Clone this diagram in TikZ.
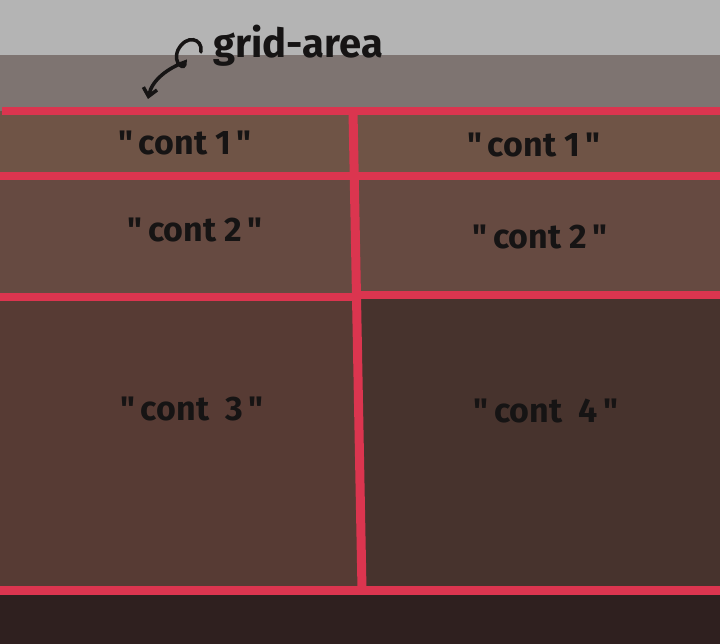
\documentclass[tikz,border=0pt]{standalone}
\usepackage{fontspec}
\setmainfont{Fira Sans}[Ligatures=TeXOff]
\usetikzlibrary{arrows.meta}
\definecolor{topgray}{HTML}{B4B4B4}
\definecolor{band}{HTML}{7E7471}
\definecolor{redline}{HTML}{DB354F}
\definecolor{rowone}{HTML}{6F5446}
\definecolor{rowtwo}{HTML}{664A41}
\definecolor{cellthree}{HTML}{573B34}
\definecolor{cellfour}{HTML}{47332D}
\definecolor{bottom}{HTML}{2F201F}
\definecolor{ink}{HTML}{161414}
\tikzset{
  lbl/.style={text=ink, font=\fontsize{34}{36}\selectfont\bfseries},
  gridline/.style={draw=redline, line width=8pt},
}
\begin{document}
\begin{tikzpicture}[x=1pt,y=-1pt]
\useasboundingbox (0,0) rectangle (720,644);
% backgrounds
\fill[topgray] (0,0) rectangle (720,55);
\fill[band] (0,55) rectangle (720,111);
\fill[rowone] (0,111) rectangle (720,176);
\fill[rowtwo] (0,176) rectangle (720,296);
\fill[cellthree] (0,296) rectangle (358,590);
\fill[cellfour] (358,296) rectangle (720,590);
\fill[bottom] (0,590) rectangle (720,644);
% grid lines
\draw[gridline] (2,111) -- (720,111);
\draw[gridline] (0,176) -- (720,176);
\draw[gridline] (0,297) -- (358,297);
\draw[gridline] (358,295) -- (720,295);
\draw[gridline, line width=9pt] (0,590) -- (720,590);
\draw[gridline, line width=9pt] (353,111) -- (362,590);
% labels
\node[lbl] (c1a) at (185,143) {"\,cont 1\,"};
\node[lbl] (c1b) at (534,145) {"\,cont 1\,"};
\node[lbl] (c2a) at (195,230) {"\,cont 2\,"};
\node[lbl] (c2b) at (540,237) {"\,cont 2\,"};
\node[lbl] (c3) at (192,409) {"\,cont\ \ 3\,"};
\node[lbl] (c4) at (546,411) {"\,cont\ \ 4\,"};
\node[lbl, anchor=west, font=\fontsize{40}{42}\selectfont\bfseries] (ga) at (210,46) {grid-area};
\coordinate (tip) at (148,99);
\draw[ink, line width=3.5pt, line cap=round, -{Straight Barb[length=8pt,width=14pt]}]
  (201,52) .. controls (203,38) and (186,34) .. (178,50)
  .. controls (172,64) and (186,72) .. (185,62)
  .. controls (168,68) and (152,80) .. (tip);
\end{tikzpicture}
\end{document}
